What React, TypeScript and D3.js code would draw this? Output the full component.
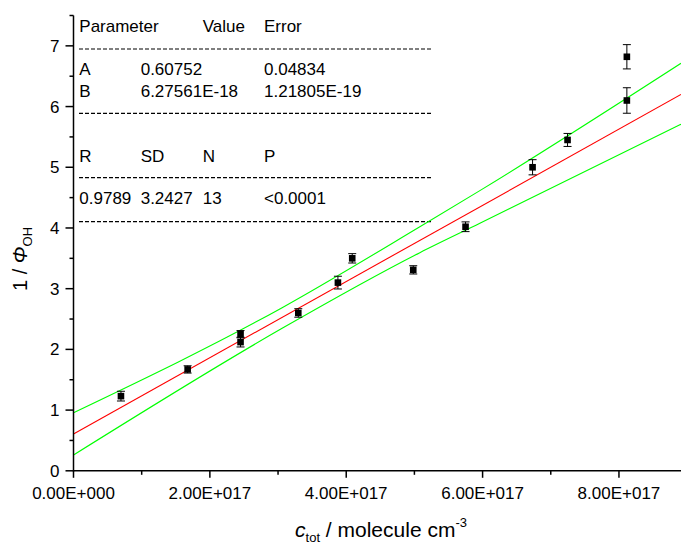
import React from "react";
import * as d3 from "d3";

// ---- data (x in units of 1e17 molecule cm^-3) ----
const xValues = [0.696, 1.674, 2.45, 2.45, 3.297, 3.878, 4.088, 4.983, 5.75, 6.733, 7.246, 8.116, 8.116];
const yValues = [1.23, 1.67, 2.25, 2.12, 2.6, 3.1, 3.5, 3.31, 4.02, 5.0, 5.45, 6.1, 6.82];
const yErrors = [0.08, 0.06, 0.06, 0.08, 0.07, 0.105, 0.077, 0.068, 0.08, 0.125, 0.107, 0.21, 0.2];

const fitA = 0.60752;
const fitB = 6.27561e-18;

const upperBandX = [0, 3.06, 5.08, 5.96, 8.91];
const upperBandY = [0.957, 2.687, 4.02, 4.615, 6.713];
const lowerBandX = [0, 3.06, 5.08, 5.96, 8.91];
const lowerBandY = [0.26, 2.347, 3.593, 4.077, 5.708];

const xMajorTicks = [0, 2, 4, 6, 8];
const xMinorTicks = [1, 3, 5, 7];
const xTickLabels = ["0.00E+000", "2.00E+017", "4.00E+017", "6.00E+017", "8.00E+017"];
const yMajorTicks = [0, 1, 2, 3, 4, 5, 6, 7];
const yMinorTicks = [0.5, 1.5, 2.5, 3.5, 4.5, 5.5, 6.5, 7.5];

const tableRows1 = [["Parameter", "", "Value", "Error"]];
const tableRows2 = [
  ["A", "0.60752", "", "0.04834"],
  ["B", "6.27561E-18", "", "1.21805E-19"],
];
const tableRows3 = [["R", "SD", "N", "P"]];
const tableRows4 = [["0.9789", "3.2427", "13", "<0.0001"]];

const W = 681;
const H = 546;
const X0 = 73.5;
const Y0 = 470.8;
const xDomainMax = 8.91;

export default function App() {
  const x = d3.scaleLinear().domain([0, xDomainMax]).range([X0, W]);
  const y = d3.scaleLinear().domain([0, 7.5]).range([Y0, 15.5]);

  const fitLine = d3
    .line<number>()
    .x((d) => x(d))
    .y((d) => y(fitA + fitB * d * 1e17));
  const band = d3
    .line<[number, number]>()
    .x((d) => x(d[0]))
    .y((d) => y(d[1]))
    .curve(d3.curveMonotoneX);

  const upper = upperBandX.map((v, i) => [v, upperBandY[i]] as [number, number]);
  const lower = lowerBandX.map((v, i) => [v, lowerBandY[i]] as [number, number]);

  const font = "'Liberation Sans', Arial, sans-serif";
  const colX = [79.3, 140.7, 202.7, 264];
  const renderRows = (rows: string[][], baselines: number[]) =>
    rows.map((r, ri) =>
      r.map((t, ci) =>
        t ? (
          <text key={`${ri}-${ci}-${t}`} x={colX[ci]} y={baselines[ri]}>
            {t}
          </text>
        ) : null
      )
    );
  const dashY = [49, 113.3, 177.7, 221.7];

  return (
    <svg
      width={W}
      height={H}
      style={{ position: "absolute", left: 0, top: 0, background: "#fff" }}
      fontFamily={font}
    >
      <rect x={0} y={0} width={W} height={H} fill="#fff" />
      {/* table */}
      <g fontSize={17} fill="#000">
        {renderRows(tableRows1, [32.3])}
        {renderRows(tableRows2, [75, 96.7])}
        {renderRows(tableRows3, [161.7])}
        {renderRows(tableRows4, [204.3])}
        {dashY.map((dy) => (
          <line key={dy} x1={79} x2={432} y1={dy} y2={dy} stroke="#000" strokeWidth={1.2} strokeDasharray="4,2" />
        ))}
      </g>

      {/* bands and fit */}
      <path d={band(upper) || ""} fill="none" stroke="#00ff00" strokeWidth={1.1} />
      <path d={band(lower) || ""} fill="none" stroke="#00ff00" strokeWidth={1.1} />
      <path d={fitLine([0, xDomainMax]) || ""} fill="none" stroke="#ff0000" strokeWidth={1.1} />

      {/* error bars and points */}
      {xValues.map((xv, i) => {
        const cx = x(xv);
        const yt = y(yValues[i] + yErrors[i]);
        const yb = y(yValues[i] - yErrors[i]);
        return (
          <g key={i}>
            <line x1={cx} x2={cx} y1={yt} y2={yb} stroke="#000" strokeWidth={1} />
            <line x1={cx - 4} x2={cx + 4} y1={yt} y2={yt} stroke="#000" strokeWidth={1} />
            <line x1={cx - 4} x2={cx + 4} y1={yb} y2={yb} stroke="#000" strokeWidth={1} />
            <rect x={cx - 3.3} y={y(yValues[i]) - 3.3} width={6.6} height={6.6} fill="#000" />
          </g>
        );
      })}

      {/* axes */}
      <g stroke="#000" strokeWidth={1.5}>
        <line x1={X0} x2={X0} y1={Y0 + 0.75} y2={y(7.5)} />
        <line x1={X0} x2={W} y1={Y0} y2={Y0} />
        {yMajorTicks.map((t) => (
          <line key={"ym" + t} x1={X0 - 8} x2={X0} y1={y(t)} y2={y(t)} />
        ))}
        {yMinorTicks.map((t) => (
          <line key={"yn" + t} x1={X0 - 4} x2={X0} y1={y(t)} y2={y(t)} />
        ))}
        {xMajorTicks.map((t) => (
          <line key={"xm" + t} x1={x(t)} x2={x(t)} y1={Y0} y2={Y0 + 7} />
        ))}
        {xMinorTicks.map((t) => (
          <line key={"xn" + t} x1={x(t)} x2={x(t)} y1={Y0} y2={Y0 + 4} />
        ))}
      </g>
      <g fontSize={17} fill="#000">
        {yMajorTicks.map((t) => (
          <text key={"yl" + t} x={X0 - 14} y={y(t) + 6} textAnchor="end">
            {t}
          </text>
        ))}
        {xMajorTicks.map((t, i) => (
          <text key={"xl" + t} x={x(t)} y={499} textAnchor="middle">
            {xTickLabels[i]}
          </text>
        ))}
      </g>

      {/* axis titles */}
      <text x={381} y={537} fontSize={21} textAnchor="middle" fill="#000">
        <tspan fontStyle="italic">c</tspan>
        <tspan fontSize={13} dy={5}>tot</tspan>
        <tspan dy={-5}> / molecule cm</tspan>
        <tspan fontSize={13} dy={-10}>-3</tspan>
      </text>
      <text transform="translate(27,259) rotate(-90)" fontSize={20} textAnchor="middle" fill="#000">
        <tspan>1 / </tspan>
        <tspan fontStyle="italic">Φ</tspan>
        <tspan fontSize={13} dy={5}>OH</tspan>
      </text>
    </svg>
  );
}
